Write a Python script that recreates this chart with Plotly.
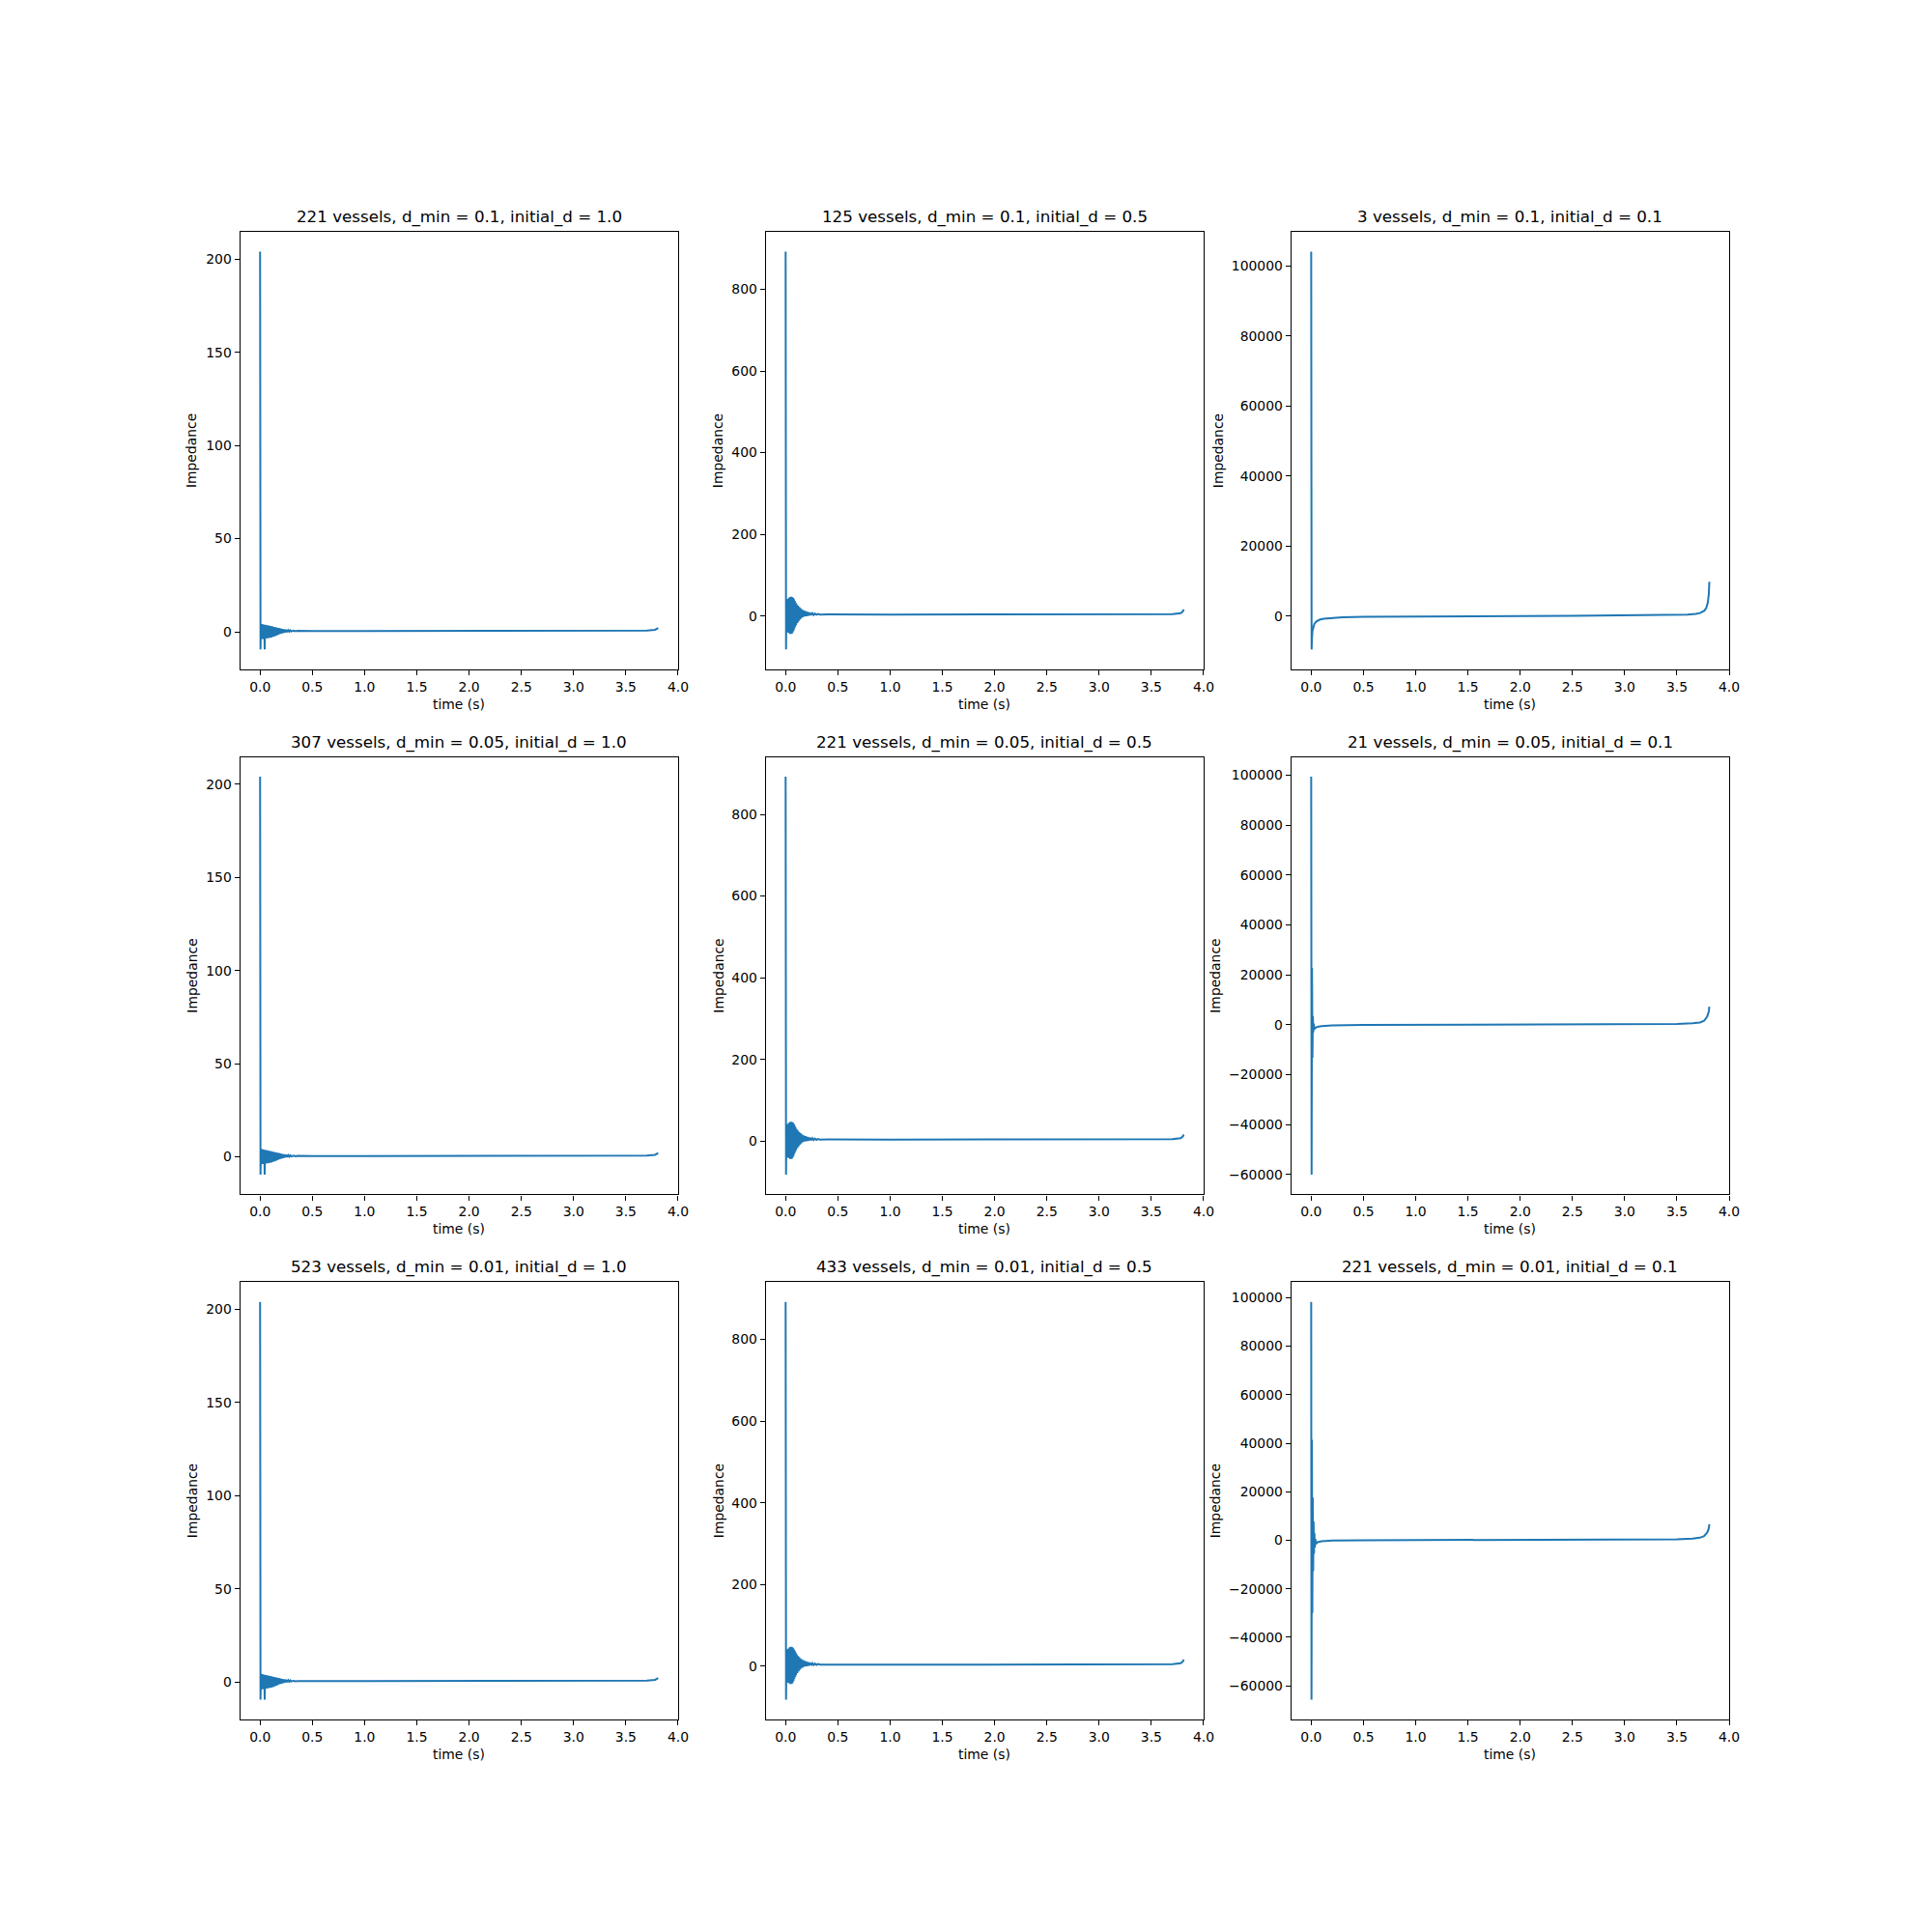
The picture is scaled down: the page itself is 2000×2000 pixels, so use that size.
import plotly.graph_objects as go

# ---------------- data ----------------
titles = [
    "221 vessels, d_min = 0.1, initial_d = 1.0",
    "125 vessels, d_min = 0.1, initial_d = 0.5",
    "3 vessels, d_min = 0.1, initial_d = 0.1",
    "307 vessels, d_min = 0.05, initial_d = 1.0",
    "221 vessels, d_min = 0.05, initial_d = 0.5",
    "21 vessels, d_min = 0.05, initial_d = 0.1",
    "523 vessels, d_min = 0.01, initial_d = 1.0",
    "433 vessels, d_min = 0.01, initial_d = 0.5",
    "221 vessels, d_min = 0.01, initial_d = 0.1",
]

# column 1 (initial_d = 1.0) – same shape in all three rows
t_c1 = [0.000, 0.004, 0.008, 0.012, 0.016, 0.020, 0.024, 0.028, 0.032, 0.036,
        0.040, 0.044, 0.048, 0.052, 0.056, 0.060, 0.068, 0.076, 0.084, 0.092,
        0.100, 0.108, 0.116, 0.124, 0.132, 0.140, 0.148, 0.156, 0.164, 0.172,
        0.180, 0.188, 0.196, 0.204, 0.212, 0.220, 0.230, 0.240, 0.250, 0.260,
        0.270, 0.280, 0.290, 0.300, 0.320, 0.340, 0.360, 0.400, 0.500, 1.000,
        2.000, 3.000, 3.500, 3.700, 3.780, 3.810]
z_c1 = [204.0, -9.5, 4.3, -4.0, 4.2, -3.9, 4.0, -3.8, 3.9, -3.7,
        3.8, -9.5, 3.7, -3.6, 3.6, -3.5, 3.5, -3.4, 3.3, -3.2,
        3.1, -3.0, 2.9, -2.7, 2.6, -2.4, 2.4, -2.0, 2.2, -1.6,
        2.0, -1.2, 1.8, -0.9, 1.5, -0.6, 1.3, -0.3, 1.1, -0.1,
        0.9, 0.1, 0.8, 0.2, 0.6, 0.3, 0.5, 0.4, 0.4, 0.4,
        0.4, 0.45, 0.5, 0.7, 1.1, 2.0]

# column 2 (initial_d = 0.5) – same shape in all three rows
t_c2 = [0.000, 0.004, 0.008, 0.012, 0.016, 0.020, 0.024, 0.028, 0.032, 0.036,
        0.040, 0.044, 0.048, 0.052, 0.056, 0.060, 0.064, 0.068, 0.072, 0.076,
        0.080, 0.084, 0.088, 0.092, 0.096, 0.100, 0.106, 0.112, 0.118, 0.124,
        0.130, 0.136, 0.142, 0.148, 0.156, 0.164, 0.172, 0.180, 0.190, 0.200,
        0.210, 0.220, 0.232, 0.244, 0.256, 0.268, 0.280, 0.295, 0.310, 0.330,
        0.360, 0.400, 1.000, 2.000, 3.000, 3.500, 3.700, 3.780, 3.800, 3.810]
z_c2 = [892.0, -82.0, 40.0, -40.0, 41.0, -40.0, 42.0, -41.0, 44.0, -42.0,
        46.0, -44.0, 47.0, -44.0, 47.0, -43.0, 46.0, -40.0, 44.0, -36.0,
        41.0, -31.0, 37.0, -26.0, 33.0, -22.0, 29.0, -17.0, 25.0, -13.0,
        22.0, -9.0, 19.0, -6.0, 16.0, -3.0, 14.0, -1.0, 12.0, 0.0,
        10.0, 1.0, 8.5, 2.0, 7.0, 2.5, 6.0, 3.0, 5.0, 3.5,
        4.2, 3.8, 3.5, 3.5, 3.6, 3.8, 4.5, 7.0, 11.0, 16.0]

# column 3, row 1 (3 vessels)
t_r1c3 = [0.000, 0.004, 0.008, 0.012, 0.020, 0.030, 0.050, 0.080, 0.120, 0.200,
          0.300, 0.500, 0.800, 1.200, 1.600, 2.000, 2.500, 3.000, 3.300, 3.500,
          3.600, 3.680, 3.720, 3.760, 3.780, 3.795, 3.805, 3.810]
z_r1c3 = [104000, -9500, -6000, -4200, -3000, -2200, -1500, -1000, -700, -450,
          -300, -180, -100, -40, 0, 40, 90, 160, 240, 330,
          450, 650, 900, 1500, 2300, 3800, 6300, 9800]

# column 3, row 2 (21 vessels)
t_r2c3 = [0.000, 0.004, 0.008, 0.012, 0.016, 0.020, 0.025, 0.030, 0.040, 0.060,
          0.100, 0.200, 0.500, 1.000, 2.000, 3.000, 3.500, 3.650, 3.720, 3.760,
          3.790, 3.805, 3.810]
z_r2c3 = [99400, -60000, 22800, -13200, 3500, -3000, 500, -1800, -1200, -800,
          -500, -250, -80, 0, 80, 200, 380, 600, 950, 1600,
          3300, 5400, 7300]

# column 3, row 3 (221 vessels)
t_r3c3 = [0.000, 0.003, 0.007, 0.011, 0.015, 0.019, 0.023, 0.027, 0.031, 0.035,
          0.040, 0.045, 0.060, 0.100, 0.200, 0.500, 1.000, 2.000, 3.000, 3.500,
          3.650, 3.720, 3.760, 3.790, 3.805, 3.810]
z_r3c3 = [98300, -65700, 41400, -30000, 17600, -12800, 7700, -5500, 3000, -3000,
          500, -1500, -800, -400, -150, 0, 50, 100, 200, 380,
          650, 1050, 1700, 3200, 4900, 6600]

panel_t = [t_c1, t_c2, t_r1c3, t_c1, t_c2, t_r2c3, t_c1, t_c2, t_r3c3]
panel_z = [z_c1, z_c2, z_r1c3, z_c1, z_c2, z_r2c3, z_c1, z_c2, z_r3c3]
y_dticks = [50, 200, 20000]
x_dtick = 0.5
x_label = "time (s)"
y_label = "Impedance"

# ---------------- layout ----------------
W = H = 2000
FONT = "DejaVu Sans"
BLUE = "#1f77b4"

left, right, bottom, top = 0.125, 0.9, 0.11, 0.88
w = (right - left) / (3 + 2 * 0.2)
h = (top - bottom) / (3 + 2 * 0.2)
xdom = [[left + c * 1.2 * w, left + c * 1.2 * w + w] for c in range(3)]
ydom = [[top - r * 1.2 * h - h, top - r * 1.2 * h] for r in range(3)]

# pixel offset of the y-label from the axes' left edge (depends on tick label width)
ylab_off = [[50, 49, 75], [50, 49, 79], [50, 49, 79]]

fig = go.Figure()
annotations = []
for i in range(9):
    r, c = divmod(i, 3)
    n = i + 1
    xa = "x" if n == 1 else f"x{n}"
    ya = "y" if n == 1 else f"y{n}"
    t = panel_t[i]
    z = panel_z[i]
    fig.add_trace(go.Scatter(x=t, y=z, mode="lines",
                             line=dict(color=BLUE, width=2),
                             xaxis=xa, yaxis=ya, showlegend=False,
                             hoverinfo="skip"))
    tmin, tmax = min(t), max(t)
    zmin, zmax = min(z), max(z)
    xr = [tmin - 0.05 * (tmax - tmin), tmax + 0.05 * (tmax - tmin)]
    yr = [zmin - 0.05 * (zmax - zmin), zmax + 0.05 * (zmax - zmin)]
    common = dict(showline=True, linecolor="black", linewidth=1.1, mirror=True,
                  ticks="outside", ticklen=5, tickwidth=1.1, tickcolor="black",
                  showgrid=False, zeroline=False,
                  tickfont=dict(family=FONT, size=13.9, color="black"))
    xkey = "xaxis" if n == 1 else f"xaxis{n}"
    ykey = "yaxis" if n == 1 else f"yaxis{n}"
    fig.update_layout(**{
        xkey: dict(domain=xdom[c], anchor=ya, range=xr, tick0=0, dtick=x_dtick,
                   tickformat=".1f", **common),
        ykey: dict(domain=ydom[r], anchor=xa, range=yr, tick0=0, dtick=y_dticks[c],
                   tickformat="d", **common),
    })
    xc = (xdom[c][0] + xdom[c][1]) / 2
    # subplot title
    annotations.append(dict(text=titles[i], x=xc, y=ydom[r][1], xref="paper", yref="paper",
                            xanchor="center", yanchor="bottom", yshift=3, showarrow=False,
                            font=dict(family=FONT, size=16.7, color="black")))
    # x label
    annotations.append(dict(text=x_label, x=xc, y=ydom[r][0], xref="paper", yref="paper",
                            xanchor="center", yanchor="middle", yshift=-36, showarrow=False,
                            font=dict(family=FONT, size=13.9, color="black")))
    # y label
    yc = (ydom[r][0] + ydom[r][1]) / 2
    annotations.append(dict(text=y_label, x=xdom[c][0], y=yc, xref="paper", yref="paper",
                            xanchor="center", yanchor="middle", xshift=-ylab_off[r][c],
                            textangle=-90, showarrow=False,
                            font=dict(family=FONT, size=13.9, color="black")))

fig.update_layout(width=W, height=H, autosize=False,
                  margin=dict(l=0, r=0, t=0, b=0),
                  paper_bgcolor="white", plot_bgcolor="white",
                  annotations=annotations, font=dict(family=FONT))
fig.write_html("out.html", config={"responsive": False})
